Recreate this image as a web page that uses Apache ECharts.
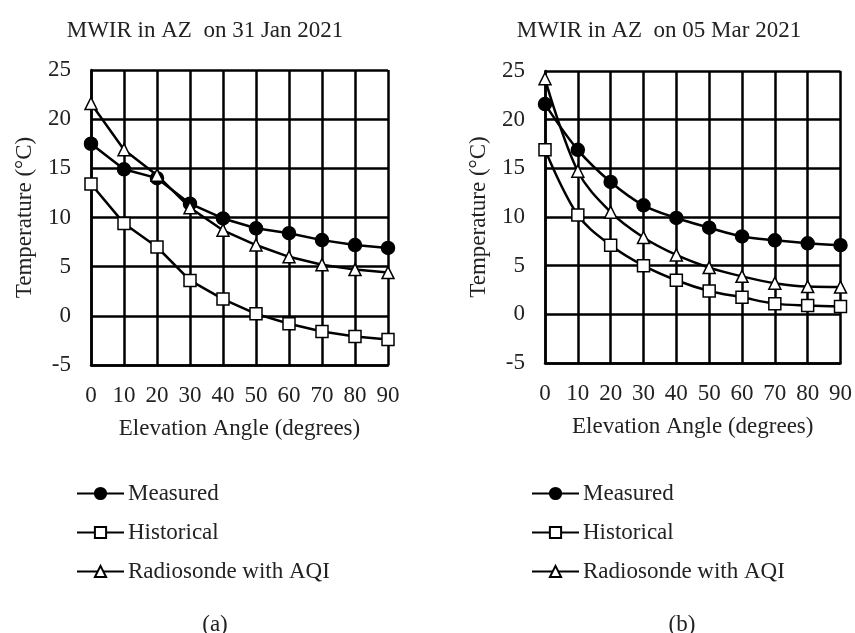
<!DOCTYPE html>
<html>
<head>
<meta charset="utf-8">
<script src="https://cdn.jsdelivr.net/npm/echarts@6/dist/echarts.min.js"></script>
<style>
  html, body { margin: 0; padding: 0; background: #fff; }
  #chart { width: 855px; height: 633px; }
</style>
</head>
<body>
<div id="chart"></div>
<script>
// elevation angle categories
const angles = ["0", "10", "20", "30", "40", "50", "60", "70", "80", "90"];
const seriesNames = ["Measured", "Historical", "Radiosonde with AQI"];

// (a) 31 Jan 2021
const measuredA = [17.5, 14.9, 14.0, 11.4, 9.9, 8.9, 8.4, 7.7, 7.2, 6.9];
const historicalA = [13.4, 9.4, 7.0, 3.6, 1.7, 0.2, -0.8, -1.6, -2.1, -2.4];
const radiosondeA = [21.6, 16.9, 14.3, 11.0, 8.7, 7.2, 6.0, 5.2, 4.7, 4.4];

// (b) 05 Mar 2021
const measuredB = [21.6, 16.9, 13.6, 11.2, 9.9, 8.9, 8.0, 7.6, 7.3, 7.1];
const historicalB = [16.9, 10.2, 7.1, 5.0, 3.5, 2.4, 1.75, 1.1, 0.9, 0.8];
const radiosondeB = [24.2, 14.7, 10.5, 7.9, 6.1, 4.8, 3.9, 3.2, 2.85, 2.8];

const FONT = "Liberation Serif";
const TXT = "#222";
const FS = 23;

function xAxisCfg(gridIndex) {
  return {
    type: "category",
    gridIndex: gridIndex,
    data: angles,
    boundaryGap: false,
    name: "Elevation Angle (degrees)",
    nameLocation: "middle",
    nameGap: 52,
    nameTextStyle: { color: TXT, fontFamily: FONT, fontSize: FS },
    axisLine: { onZero: false, lineStyle: { color: "#000", width: 2.5 } },
    axisTick: { show: false },
    axisLabel: { color: TXT, fontFamily: FONT, fontSize: FS, margin: 19 },
    splitLine: { show: true, lineStyle: { color: "#000", width: 2.5 } },
  };
}

function yAxisCfg(gridIndex) {
  return {
    type: "value",
    gridIndex: gridIndex,
    min: -5,
    max: 25,
    interval: 5,
    name: "Temperature (°C)",
    nameLocation: "middle",
    nameGap: 55,
    nameTextStyle: { color: TXT, fontFamily: FONT, fontSize: FS },
    axisLine: { show: true, lineStyle: { color: "#000", width: 2.5 } },
    axisTick: { show: false },
    axisLabel: { color: TXT, fontFamily: FONT, fontSize: FS, margin: 20 },
    splitLine: { show: true, lineStyle: { color: "#000", width: 2.5 } },
  };
}

const symbols = ["circle", "rect", "triangle"];
const fills = ["#000", "#fff", "#fff"];

function seriesCfg(idx, axisIndex, values, smooth) {
  return {
    name: seriesNames[idx],
    type: "line",
    xAxisIndex: axisIndex,
    yAxisIndex: axisIndex,
    data: values,
    smooth: smooth,
    symbol: symbols[idx],
    symbolSize: idx === 0 ? 13 : 12,
    showAllSymbol: true,
    lineStyle: { color: "#000", width: 2.5 },
    itemStyle: { color: fills[idx], borderColor: "#000", borderWidth: 1.5 },
    z: 3 + idx,
  };
}

function legendCfg(left) {
  return {
    orient: "vertical",
    left: left,
    top: 477,
    itemWidth: 47,
    itemHeight: 14,
    itemGap: 16,
    selectedMode: false,
    data: seriesNames,
    textStyle: { color: TXT, fontFamily: FONT, fontSize: FS, padding: [0, 0, 0, -1] },
  };
}

const titleStyle = { color: TXT, fontFamily: FONT, fontSize: FS, fontWeight: "normal" };

const option = {
  backgroundColor: "#fff",
  animation: false,
  title: [
    { text: "MWIR in AZ  on 31 Jan 2021", left: 200, top: 14, textAlign: "center", textStyle: titleStyle },
    { text: "MWIR in AZ  on 05 Mar 2021", left: 654, top: 14, textAlign: "center", textStyle: titleStyle },
    { text: "(a)", left: 210, top: 608, textAlign: "center", textStyle: titleStyle },
    { text: "(b)", left: 677, top: 608, textAlign: "center", textStyle: titleStyle },
  ],
  legend: [legendCfg(71), legendCfg(526)],
  grid: [
    { left: 91, top: 70, width: 297, height: 295 },
    { left: 545, top: 71, width: 298, height: 292 },
  ],
  xAxis: [xAxisCfg(0), xAxisCfg(1)],
  yAxis: [yAxisCfg(0), yAxisCfg(1)],
  series: [
    seriesCfg(0, 0, measuredA, false),
    seriesCfg(1, 0, historicalA, false),
    seriesCfg(2, 0, radiosondeA, false),
    seriesCfg(0, 1, measuredB, 0.35),
    seriesCfg(1, 1, historicalB, 0.35),
    seriesCfg(2, 1, radiosondeB, 0.35),
  ],
};

const myChart = echarts.init(document.getElementById("chart"));
myChart.setOption(option);
</script>
</body>
</html>
